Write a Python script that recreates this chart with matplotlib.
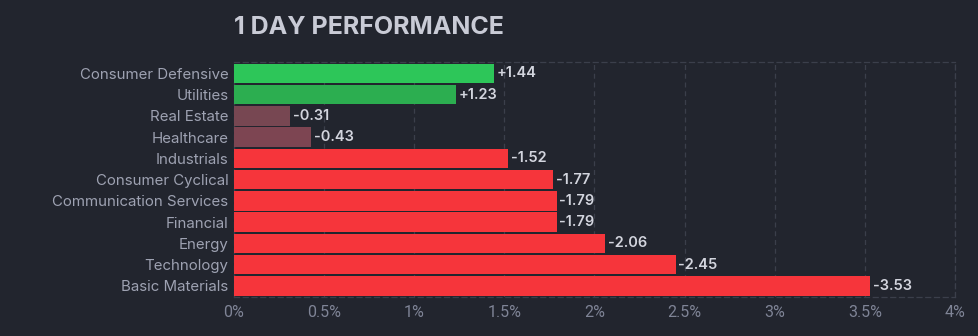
import matplotlib
matplotlib.use("Agg")
import matplotlib.pyplot as plt
from matplotlib.ticker import FuncFormatter, MultipleLocator

sectors = ["Consumer Defensive", "Utilities", "Real Estate", "Healthcare", "Industrials",
           "Consumer Cyclical", "Communication Services", "Financial", "Energy",
           "Technology", "Basic Materials"]
changes = [1.44, 1.23, -0.31, -0.43, -1.52, -1.77, -1.79, -1.79, -2.06, -2.45, -3.53]
bar_colors = ["#2dc659", "#2cae50", "#774752", "#7d4552", "#f6353b", "#f6353b",
              "#f6353b", "#f6353b", "#f6353b", "#f6353b", "#f6353b"]

BG = "#22252e"
GRID = "#3b3f4b"
TXT = "#9ea2b2"

fig = plt.figure(figsize=(9.79, 3.36), dpi=100, facecolor=BG)
ax = fig.add_axes([0.239, 0.116, 0.7365, 0.699], facecolor=BG)

y = list(range(len(sectors)))
vals = [abs(v) for v in changes]
ax.barh(y, vals, height=0.92, color=bar_colors, zorder=3)

for yi, v in zip(y, changes):
    ax.text(abs(v) + 0.015, yi, f"{v:+.2f}", va="center", ha="left",
            color="#d3d5de", fontsize=10.5, fontweight="semibold",
            family="Inter", zorder=4)

ax.set_xlim(0, 4)
ax.set_ylim(len(sectors) - 0.47, -0.53)
ax.set_yticks(y)
ax.set_yticklabels(sectors, family="Inter", fontsize=10.8, color=TXT)
ax.xaxis.set_major_locator(MultipleLocator(0.5))
ax.xaxis.set_major_formatter(FuncFormatter(lambda x, p: f"{x:g}%"))
for lbl in ax.get_xticklabels():
    lbl.set_family("Roboto")
    lbl.set_fontsize(11.5)
    lbl.set_color("#7f8496")
ax.tick_params(length=0, pad=4)
ax.tick_params(axis="x", pad=6)

ax.grid(axis="x", color=GRID, linestyle=(0, (4, 3)), linewidth=0.9, zorder=0)
for s in ax.spines.values():
    s.set_color(GRID)
    s.set_linestyle((0, (4, 3)))
    s.set_linewidth(0.9)

fig.text(0.239, 0.918, "1 DAY PERFORMANCE", ha="left", va="center",
         fontsize=18, fontweight="bold", color="#c9cbd6", family="Inter")

fig.savefig("out.png", dpi=100, facecolor=BG)
